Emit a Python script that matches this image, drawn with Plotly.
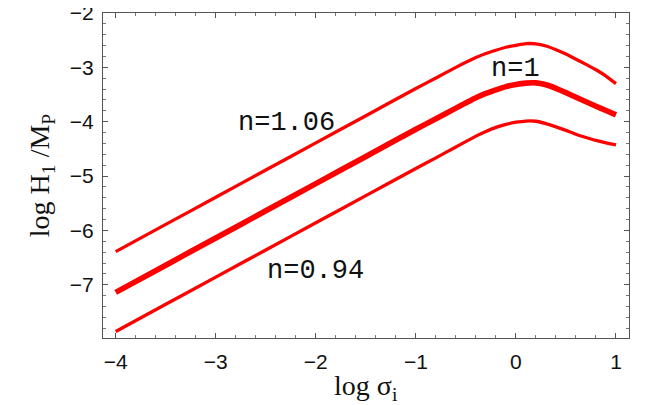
import plotly.graph_objects as go

# log sigma_i sample positions
log_sigma = [-4, -3.5, -3, -2.5, -2, -1.5, -1.0, -0.8, -0.6, -0.4, -0.3, -0.2, -0.1, 0.0,
             0.1, 0.2, 0.3, 0.4, 0.5, 0.6, 0.7, 0.8, 0.9, 1.0]

# log H1/MP for n = 1.06, 1, 0.94
logH_n106 = [-6.39, -5.89, -5.39, -4.89, -4.39, -3.89, -3.39, -3.195, -3.00, -2.82, -2.745, -2.685, -2.63, -2.595,
             -2.565, -2.567, -2.607, -2.675, -2.755, -2.85, -2.945, -3.045, -3.16, -3.30]
logH_n100 = [-7.14, -6.64, -6.14, -5.64, -5.14, -4.64, -4.14, -3.945, -3.75, -3.56, -3.48, -3.415, -3.355, -3.315,
             -3.29, -3.285, -3.32, -3.385, -3.465, -3.55, -3.632, -3.715, -3.795, -3.875]
logH_n094 = [-7.86, -7.36, -6.86, -6.36, -5.86, -5.36, -4.86, -4.665, -4.465, -4.265, -4.18, -4.105, -4.05, -4.01,
             -3.988, -3.992, -4.035, -4.095, -4.16, -4.23, -4.29, -4.345, -4.39, -4.425]

labels = ["n=1.06", "n=1", "n=0.94"]
label_x = [-2.29, 0.0, -2.0]
label_y = [-4.02, -3.03, -6.74]

x_ticks = [-4, -3, -2, -1, 0, 1]
y_ticks = [-7, -6, -5, -4, -3, -2]

RED = "#ff0000"
fig = go.Figure()
for ys, w in [(logH_n106, 3.3), (logH_n100, 5.6), (logH_n094, 3.3)]:
    fig.add_trace(go.Scatter(x=log_sigma, y=ys, mode="lines",
                             line=dict(color=RED, width=w, shape="spline", smoothing=0.5),
                             showlegend=False, hoverinfo="skip"))

for t, lx, ly in zip(labels, label_x, label_y):
    fig.add_annotation(x=lx, y=ly, text=t, showarrow=False,
                       font=dict(family="Liberation Mono", size=27, color="#111"),
                       xanchor="center", yanchor="middle")

axis_common = dict(showline=True, mirror="allticks", linecolor="#555", linewidth=1,
                   ticks="inside", ticklen=5, tickcolor="#555", tickwidth=1,
                   showgrid=False, zeroline=False, automargin=False,
                   ticklabeloverflow="allow",
                   tickfont=dict(family="Liberation Sans", size=21, color="#111"),
                   minor=dict(ticks="inside", ticklen=3, tickcolor="#777", dtick=0.2, showgrid=False))

fig.update_xaxes(range=[-4.127, 1.13], tickvals=x_ticks, ticklabelstandoff=5, **axis_common)
fig.update_yaxes(range=[-7.98, -2.0], tickvals=y_ticks, ticklabelstandoff=4, **axis_common)

serif = dict(family="Liberation Serif", size=28, color="#111")
fig.add_annotation(xref="paper", yref="paper", x=0.5, y=-0.152, text="log σ<sub>i</sub>",
                   showarrow=False, font=serif, xanchor="center", yanchor="middle")
fig.add_annotation(xref="paper", yref="paper", x=-0.1166, y=0.5, text="log H<sub>1</sub> /M<sub>P</sub>",
                   showarrow=False, font=serif, textangle=-90, xanchor="center", yanchor="middle")

fig.update_layout(width=655, height=405, autosize=False,
                  margin=dict(l=95, r=34, t=5, b=75),
                  paper_bgcolor="white", plot_bgcolor="white")

fig.write_html("out.html")
